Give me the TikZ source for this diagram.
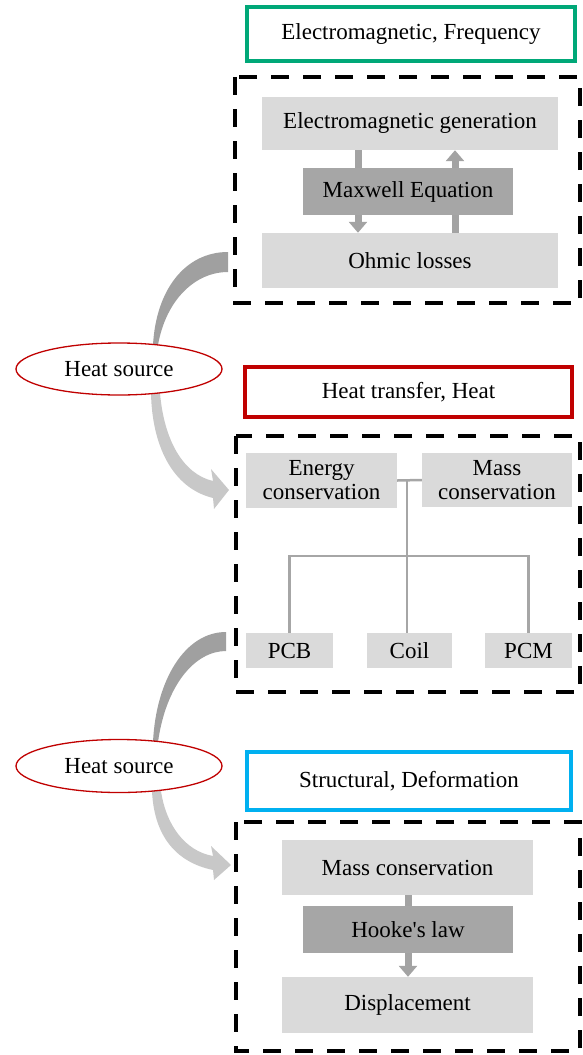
\documentclass[tikz,border=0pt]{standalone}
\usepackage{fontspec}
\setmainfont{Liberation Serif}
\usetikzlibrary{arrows.meta,shapes.geometric}
\definecolor{lightbox}{HTML}{DADADA}
\definecolor{darkbox}{HTML}{A6A6A6}
\definecolor{arrowgray}{HTML}{A3A3A3}
\definecolor{bandgray}{HTML}{A0A0A0}
\definecolor{bandlight}{HTML}{C8C8C8}
\definecolor{emgreen}{RGB}{0,168,120}
\definecolor{htred}{RGB}{192,0,0}
\definecolor{stblue}{RGB}{0,176,240}
\tikzset{
  txt/.style={font=\fontsize{23}{26}\selectfont, text=black, inner sep=0pt, align=center},
  lbox/.style={txt, fill=lightbox},
  dbox/.style={txt, fill=darkbox},
  titlebox/.style={txt, draw, line width=4pt, fill=white},
  dashbox/.style={draw=black, line width=4.5pt, dash pattern=on 18pt off 14pt},
  src/.style={txt, ellipse, draw=htred, line width=1.3pt, fill=white, inner sep=0pt},
  vflow/.style={draw=arrowgray, line width=7pt, -{Triangle[width=18pt,length=11pt]}},
  tree/.style={draw=darkbox, line width=2.5pt},
}
\begin{document}
\begin{tikzpicture}[x=1pt,y=-1pt]
\useasboundingbox (0,0) rectangle (583,1055);

% ---------- curved heat-source bands ----------
\fill[bandgray] (153,345) .. controls (156,290) and (185,252) .. (228,252) -- (228,272) .. controls (195,272) and (166,300) .. (158,345) -- cycle;
\fill[bandlight] (151,393) .. controls (152,445) and (172,488) .. (213,498) -- (214,509) -- (229,490) -- (211,469) -- (213,481) .. controls (183,474) and (164,440) .. (160,393) -- cycle;
\fill[bandgray] (153,742) .. controls (156,680) and (185,632) .. (226,632) -- (226,651) .. controls (195,651) and (166,685) .. (158,742) -- cycle;
\fill[bandlight] (152,791) .. controls (154,835) and (175,862) .. (213,870) -- (214,880) -- (231,865) -- (211,846) -- (213,856) .. controls (185,851) and (166,825) .. (161,791) -- cycle;

% ---------- block 1: electromagnetic ----------
\node[titlebox, draw=emgreen, minimum width=328pt, minimum height=54pt] (em) at (411,34) {Electromagnetic, Frequency};
\draw[dashbox] (235,77) rectangle (580,303);
\node[lbox, minimum width=296pt, minimum height=53pt] (gen) at (410,123.5) {Electromagnetic generation};
\node[lbox, minimum width=296pt, minimum height=55pt] (ohm) at (410,260.5) {Ohmic losses};
\draw[vflow] (gen.south -| 358,0) -- (ohm.north -| 358,0);
\draw[vflow] (ohm.north -| 455,0) -- (gen.south -| 455,0);
\node[dbox, minimum width=210pt, minimum height=47pt] (maxw) at (408,191.5) {Maxwell Equation};

\node[src, minimum width=206pt, minimum height=52pt] (hs1) at (119,369) {Heat source};

% ---------- block 2: heat transfer ----------
\node[titlebox, draw=htred, minimum width=327pt, minimum height=50pt] (ht) at (408.5,392) {Heat transfer, Heat};
\draw[dashbox] (236,436) rectangle (580,692);
\node[lbox, minimum width=151pt, minimum height=55pt] (energy) at (321.5,480.5) {Energy\\[-2pt]conservation};
\node[lbox, minimum width=150pt, minimum height=54pt] (mass2) at (497,480) {Mass\\[-2pt]conservation};
\node[lbox, minimum width=87pt, minimum height=35pt] (pcb) at (289.5,650.5) {PCB};
\node[lbox, minimum width=85pt, minimum height=35pt] (coil) at (409.5,650.5) {Coil};
\node[lbox, minimum width=87pt, minimum height=35pt] (pcm) at (528.5,650.5) {PCM};
\coordinate (jt) at (407,480);
\coordinate (jb) at (407,556);
\draw[tree] (energy.east) -- (mass2.west);
\draw[tree] (jt) -- (jb);
\draw[tree] (pcb.north) |- (jb) -| (pcm.north);
\draw[tree] (jb) -- (jb |- coil.north);

\node[src, minimum width=206pt, minimum height=53pt] (hs2) at (119,766) {Heat source};

% ---------- block 3: structural ----------
\node[titlebox, draw=stblue, minimum width=324pt, minimum height=58pt] (st) at (409,781) {Structural, Deformation};
\draw[dashbox] (236,822) rectangle (580,1051);
\node[lbox, minimum width=251pt, minimum height=55pt] (mass3) at (407.5,867.5) {Mass conservation};
\node[lbox, minimum width=251pt, minimum height=56pt] (disp) at (407.5,1005) {Displacement};
\draw[vflow] (mass3.south -| 408,0) -- (disp.north -| 408,0);
\node[dbox, minimum width=210pt, minimum height=47pt] (hooke) at (408,929.5) {Hooke\textquotesingle s law};
\end{tikzpicture}
\end{document}
